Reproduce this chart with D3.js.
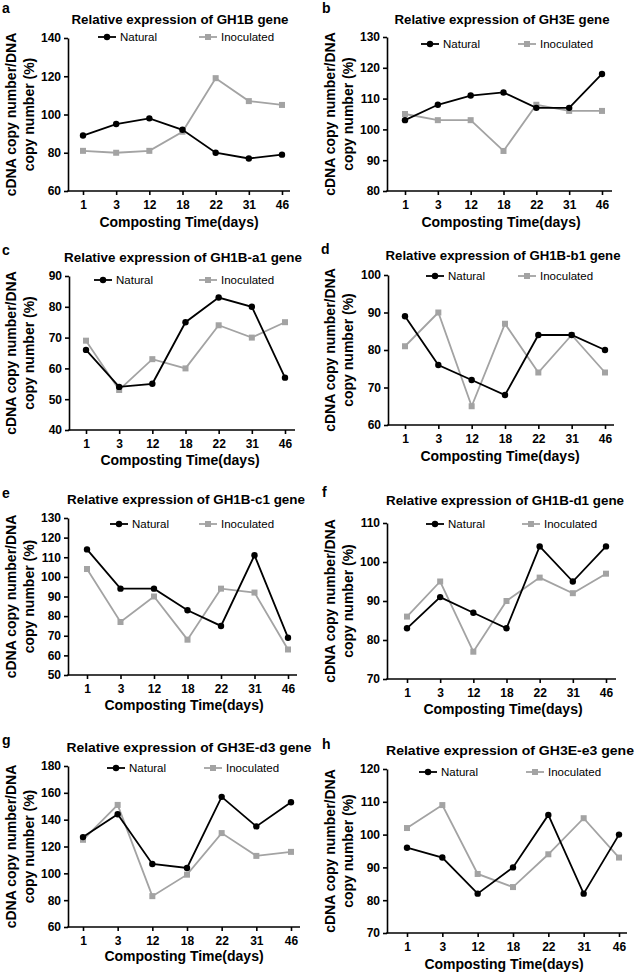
<!DOCTYPE html>
<html><head><meta charset="utf-8">
<script src="https://cdn.jsdelivr.net/npm/d3@7"></script>
<style>body{margin:0;background:#fff}svg{display:block}text{font-family:"Liberation Sans",Arial,sans-serif}</style>
</head><body>
<svg id="chart" width="638" height="972"></svg>
<script>
// ---------- DATA ----------
const days = ["1", "3", "12", "18", "22", "31", "46"];
const letters = ["a", "b", "c", "d", "e", "f", "g", "h"];
const titles = [
  "Relative expression of GH1B gene",
  "Relative expression of GH3E gene",
  "Relative expression of GH1B-a1 gene",
  "Relative expression of GH1B-b1 gene",
  "Relative expression of GH1B-c1 gene",
  "Relative expression of GH1B-d1 gene",
  "Relative expression of GH3E-d3 gene",
  "Relative expression of GH3E-e3 gene"
];
const seriesNames = ["Natural", "Inoculated"];
const naturalA = [89, 95, 98, 92, 80, 77, 79];
const inocA    = [81, 80, 81, 91, 119, 107, 105];
const naturalB = [103, 108, 111, 112, 107, 107, 118];
const inocB    = [105, 103, 103, 93, 108, 106, 106];
const naturalC = [66, 54, 55, 75, 83, 80, 57];
const inocC    = [69, 53, 63, 60, 74, 70, 75];
const naturalD = [89, 76, 72, 68, 84, 84, 80];
const inocD    = [81, 90, 65, 87, 74, 84, 74];
const naturalE = [114, 94, 94, 83, 75, 111, 69];
const inocE    = [104, 77, 90, 68, 94, 92, 63];
const naturalF = [83, 91, 87, 83, 104, 95, 104];
const inocF    = [86, 95, 77, 90, 96, 92, 97];
const naturalG = [127, 144, 107, 104, 157, 135, 153];
const inocG    = [125, 151, 83, 99, 130, 113, 116];
const naturalH = [96, 93, 82, 90, 106, 82, 100];
const inocH    = [102, 109, 88, 84, 94, 105, 93];
const yTicksA = [60, 80, 100, 120, 140];
const yTicksB = [80, 90, 100, 110, 120, 130];
const yTicksC = [40, 50, 60, 70, 80, 90];
const yTicksD = [60, 70, 80, 90, 100];
const yTicksE = [50, 60, 70, 80, 90, 100, 110, 120, 130];
const yTicksF = [70, 80, 90, 100, 110];
const yTicksG = [60, 80, 100, 120, 140, 160, 180];
const yTicksH = [70, 80, 90, 100, 110, 120];
const xTitle = "Composting Time(days)";
const yTitle1 = "cDNA copy number/DNA";
const yTitle2 = "copy number (%)";

const naturals = [naturalA, naturalB, naturalC, naturalD, naturalE, naturalF, naturalG, naturalH];
const inocs = [inocA, inocB, inocC, inocD, inocE, inocF, inocG, inocH];
const yTicks = [yTicksA, yTicksB, yTicksC, yTicksD, yTicksE, yTicksF, yTicksG, yTicksH];

// ---------- LAYOUT ----------
const layout = [
  {ox:0,   oy:0,   ax:68,  yT:38,  yB:191, x1:83,  xN:282, xR:290, tX:180, tY:24,  tW:217, lY:37,  nL:98,  iL:199, tlY:209, xtX:179, xtY:227, lx:2,   ly:13},
  {ox:319, oy:0,   ax:387, yT:37,  yB:191, x1:405, xN:602, xR:612, tX:502, tY:24,  tW:215, lY:44,  nL:421, iL:518, tlY:209, xtX:501, xtY:227, lx:322, ly:13},
  {ox:0,   oy:243, ax:69,  yT:276, yB:430, x1:86,  xN:285, xR:295, tX:183, tY:262, tW:238, lY:280, nL:94,  iL:199, tlY:447, xtX:180, xtY:465, lx:2,   ly:255},
  {ox:319, oy:243, ax:388, yT:275, yB:425, x1:405, xN:605, xR:614, tX:503, tY:260, tW:235, lY:276, nL:426, iL:518, tlY:443, xtX:500, xtY:461, lx:321, ly:254},
  {ox:0,   oy:486, ax:68,  yT:518, yB:675, x1:87,  xN:288, xR:297, tX:186, tY:504, tW:238, lY:524, nL:110, iL:199, tlY:692, xtX:184, xtY:710, lx:2,   ly:498},
  {ox:319, oy:486, ax:387, yT:523, yB:679, x1:407, xN:606, xR:616, tX:505, tY:505, tW:238, lY:524, nL:426, iL:522, tlY:697, xtX:503, xtY:714, lx:322, ly:497},
  {ox:0,   oy:729, ax:68,  yT:766, yB:927, x1:83,  xN:291, xR:300, tX:189, tY:752, tW:245, lY:768, nL:107, iL:204, tlY:943, xtX:184, xtY:961, lx:2,   ly:745},
  {ox:319, oy:729, ax:387, yT:769, yB:933, x1:407, xN:619, xR:627, tX:510, tY:755, tW:248, lY:772, nL:419, iL:526, tlY:952, xtX:504, xtY:969, lx:322, ly:749}
];

const GRAY = "#a3a3a3";
const svg = d3.select("#chart");

layout.forEach((L, i) => {
  const g = svg.append("g");
  const ticks = yTicks[i];
  const x = d3.scalePoint().domain(days).range([L.x1, L.xN]);
  const y = d3.scaleLinear().domain([d3.min(ticks), d3.max(ticks)]).range([L.yB, L.yT]);
  const xEdge = d3.scaleLinear().domain([0, 1]).range([L.ax, L.xR]);

  // panel letter
  g.append("text").attr("x", L.lx).attr("y", L.ly).text(letters[i])
    .attr("font-size", 14).attr("font-weight", "bold");

  // title
  g.append("text").attr("x", L.tX).attr("y", L.tY).attr("text-anchor", "middle")
    .attr("font-size", 13).attr("font-weight", "bold")
    .attr("textLength", L.tW).attr("lengthAdjust", "spacingAndGlyphs")
    .text(titles[i]);

  // y axis
  const yAx = g.append("g").attr("transform", `translate(${L.ax},0)`)
    .call(d3.axisLeft(y).tickValues(ticks).tickSize(4).tickSizeOuter(0).tickPadding(3));
  yAx.selectAll("text").attr("font-size", 12).attr("font-weight", "bold").attr("fill", "#000")
    .style("font-family", "'Liberation Sans',Arial,sans-serif");
  yAx.selectAll("path,line").attr("stroke", "#000").attr("stroke-width", 1.6);

  // x axis
  const xAx = g.append("g").attr("transform", `translate(0,${L.yB})`)
    .call(d3.axisBottom(x).tickSize(4).tickSizeOuter(0).tickPadding(5));
  xAx.select(".domain").remove();
  xAx.selectAll("text").attr("font-size", 12).attr("font-weight", "bold").attr("fill", "#000")
    .style("font-family", "'Liberation Sans',Arial,sans-serif");
  xAx.selectAll("line").attr("stroke", "#000").attr("stroke-width", 1.6);
  g.append("line").attr("x1", xEdge(0) - 0.8).attr("x2", xEdge(1)).attr("y1", L.yB).attr("y2", L.yB)
    .attr("stroke", "#000").attr("stroke-width", 1.6);

  // axis titles
  g.append("text").attr("x", L.xtX).attr("y", L.xtY).attr("text-anchor", "middle")
    .attr("font-size", 14).attr("font-weight", "bold").text(xTitle);
  const yc = (L.yT + L.yB) / 2;
  g.append("text").attr("transform", `translate(${L.ox + 16},${yc}) rotate(-90)`)
    .attr("text-anchor", "middle").attr("font-size", 14).attr("font-weight", "bold").text(yTitle1);
  g.append("text").attr("transform", `translate(${L.ox + 34},${yc}) rotate(-90)`)
    .attr("text-anchor", "middle").attr("font-size", 14).attr("font-weight", "bold").text(yTitle2);

  const line = d3.line().x((d, j) => x(days[j])).y(d => y(d));

  // inoculated series
  g.append("path").datum(inocs[i]).attr("d", line).attr("fill", "none")
    .attr("stroke", GRAY).attr("stroke-width", 1.8);
  g.selectAll(".sq").data(inocs[i]).join("rect").attr("class", "sq")
    .attr("x", (d, j) => x(days[j]) - 3).attr("y", d => y(d) - 3)
    .attr("width", 6).attr("height", 6).attr("fill", GRAY);

  // natural series
  g.append("path").datum(naturals[i]).attr("d", line).attr("fill", "none")
    .attr("stroke", "#000").attr("stroke-width", 1.8);
  g.selectAll(".dot").data(naturals[i]).join("circle").attr("class", "dot")
    .attr("cx", (d, j) => x(days[j])).attr("cy", d => y(d)).attr("r", 3.2).attr("fill", "#000");

  // legend
  const leg = [
    {name: seriesNames[0], x0: L.nL, color: "#000", shape: "circle"},
    {name: seriesNames[1], x0: L.iL, color: GRAY, shape: "square"}
  ];
  leg.forEach(s => {
    g.append("line").attr("x1", s.x0).attr("x2", s.x0 + 18).attr("y1", L.lY).attr("y2", L.lY)
      .attr("stroke", s.color).attr("stroke-width", 1.8);
    if (s.shape === "circle") {
      g.append("circle").attr("cx", s.x0 + 9).attr("cy", L.lY).attr("r", 3.2).attr("fill", s.color);
    } else {
      g.append("rect").attr("x", s.x0 + 6).attr("y", L.lY - 3).attr("width", 6).attr("height", 6).attr("fill", s.color);
    }
    g.append("text").attr("x", s.x0 + 22).attr("y", L.lY + 4).attr("font-size", 11.5)
      .attr("fill", "#000").text(s.name);
  });
});
</script>
</body></html>
